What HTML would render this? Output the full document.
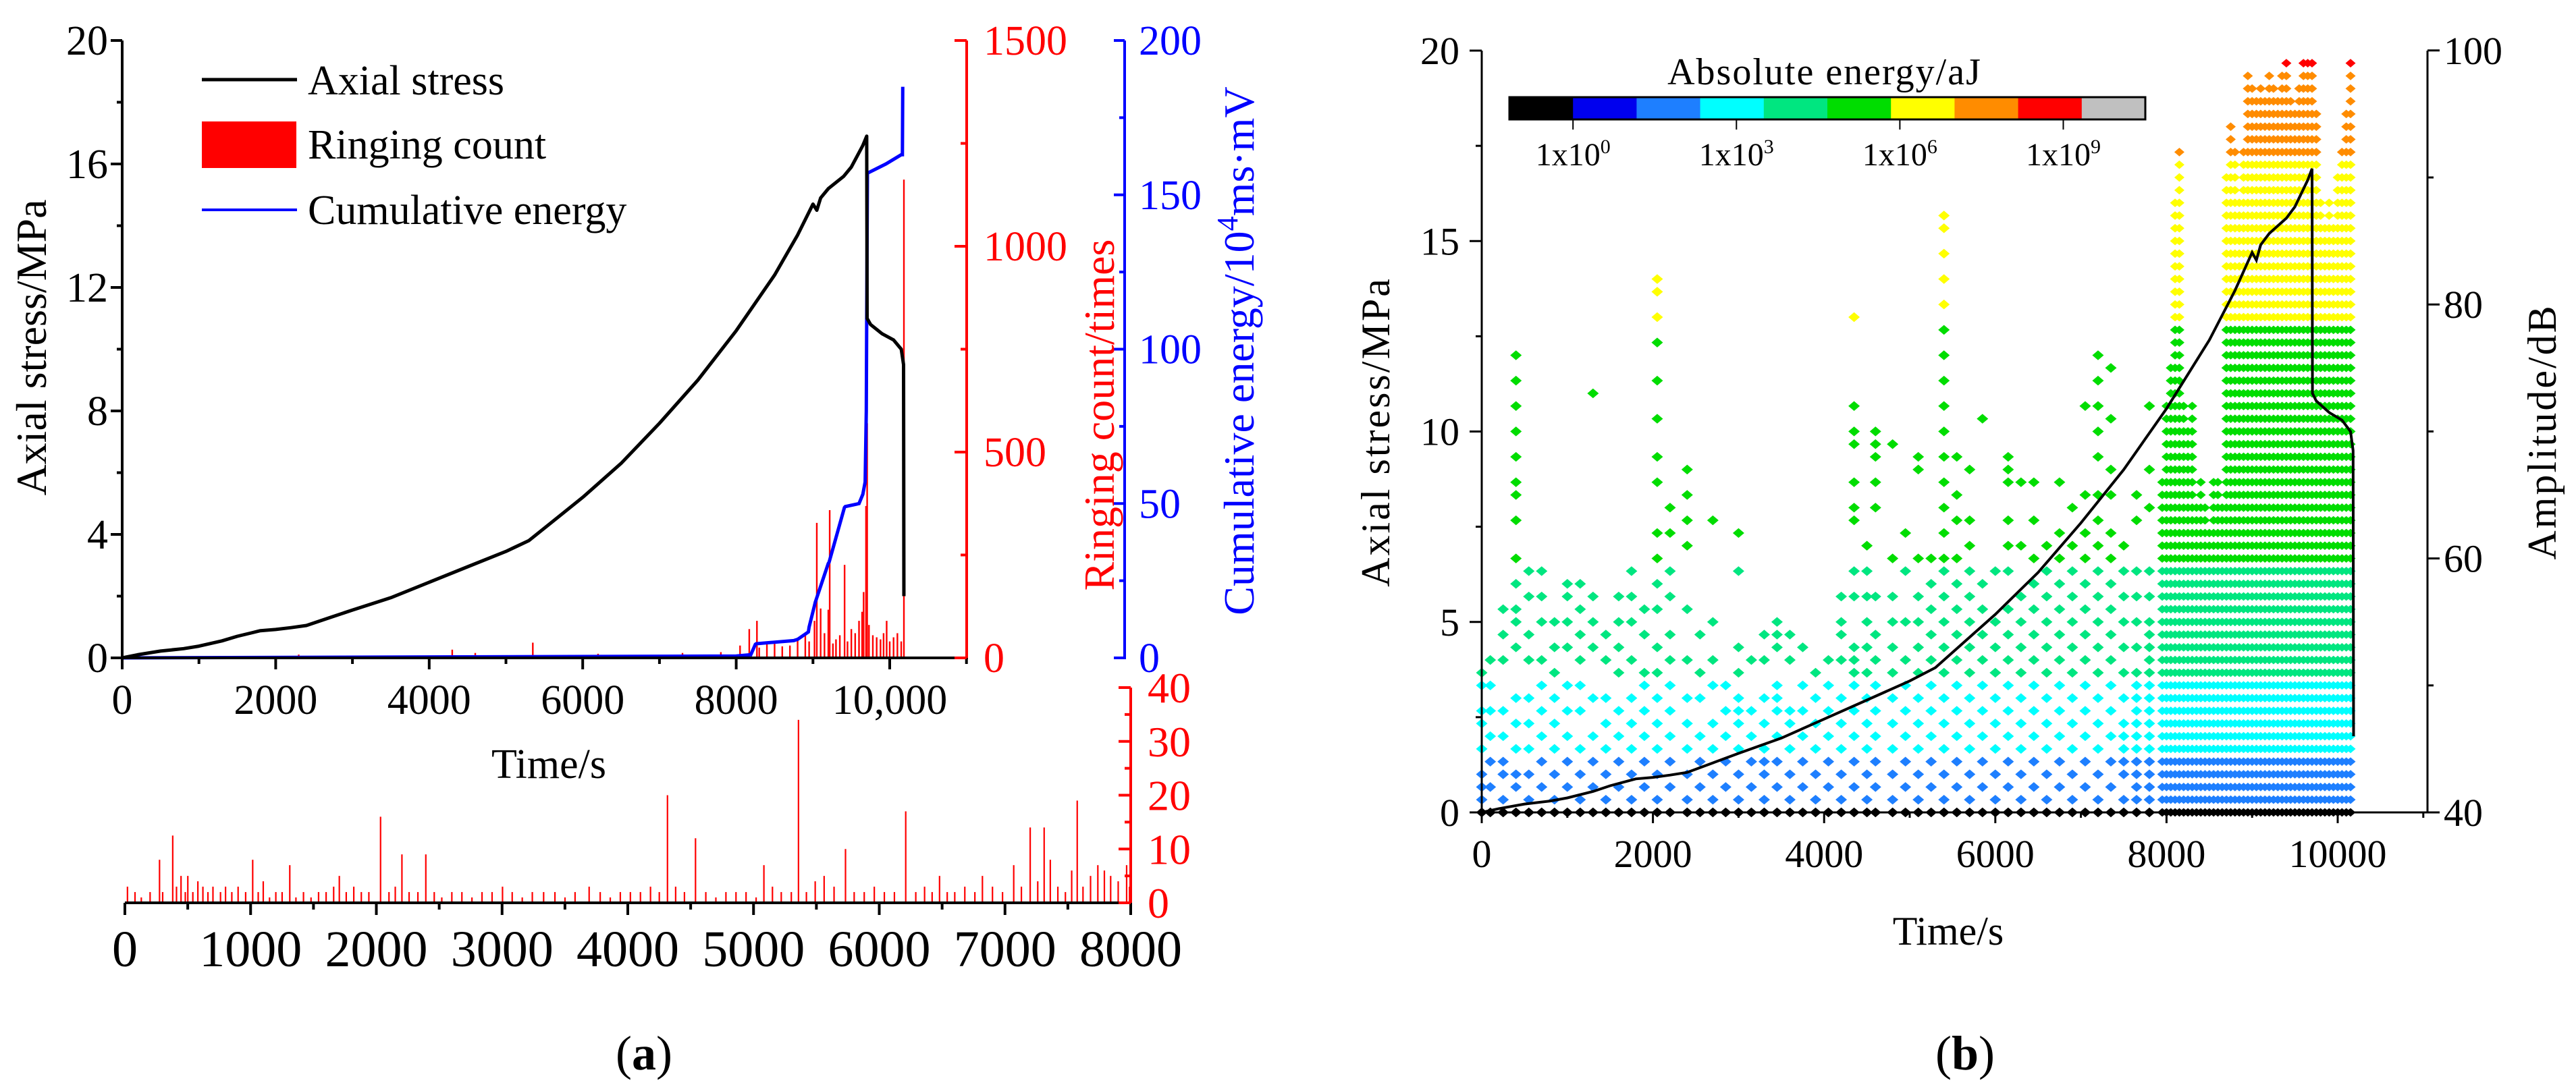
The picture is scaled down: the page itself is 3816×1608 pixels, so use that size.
<!DOCTYPE html>
<html><head><meta charset="utf-8"><title>AE charts</title>
<style>html,body{margin:0;padding:0;background:#fff}svg{display:block}svg text{font-family:"Liberation Serif","DejaVu Serif",serif}</style>
</head><body>
<svg id="fig" xmlns="http://www.w3.org/2000/svg" width="3816" height="1608" viewBox="0 0 3816 1608" font-family="Liberation Serif, DejaVu Serif, serif">
<g id="pa"></g>
<g id="pb"></g>
</svg>
<script>
// ---------- DATA ----------
const stressT = [0,200,500,800,1000,1300,1500,1700,1800,2000,2200,2400,2700,3000,3500,4000,4500,5000,5300,5600,6000,6500,7000,7500,8000,8500,8800,9000,9050,9100,9200,9300,9400,9500,9650,9700,9705,9750,9900,10050,10150,10180,10185];
const stressV = [0,0.1,0.22,0.3,0.38,0.55,0.7,0.82,0.88,0.92,0.98,1.05,1.3,1.55,1.95,2.45,2.95,3.45,3.8,4.4,5.2,6.3,7.6,9.0,10.6,12.4,13.7,14.7,14.5,14.9,15.2,15.4,15.6,15.9,16.6,16.9,11.0,10.8,10.5,10.3,10.0,9.5,2.0];
const energyT = [0,8000,8180,8190,8250,8260,8750,8800,8940,8950,9020,9030,9200,9210,9410,9420,9600,9650,9680,9695,9700,9710,9950,10150,10165,10170];
const energyV = [0,0.6,1,1,4.4,4.6,5.6,6.0,8.4,10,17,18,30.6,31,48.7,49,50,53,57,80,110,157,160,163,163,185];
const ringT = [2300,4300,4600,5350,6200,7300,7800,8050,8170,8270,8300,8400,8500,8600,8700,8800,8900,8950,9020,9050,9100,9150,9200,9218,9260,9300,9350,9412,9450,9500,9550,9600,9640,9660,9691,9706,9730,9780,9830,9880,9920,9960,10000,10050,10100,10150,10185];
const ringV = [8,20,12,37,10,12,14,30,70,90,25,35,40,28,30,45,60,40,90,328,120,60,117,359,35,45,55,226,40,70,60,90,112,160,369,570,80,55,50,45,60,90,40,50,60,40,1162];
const ring2T = [20,80,130,200,275,300,380,410,446,480,500,540,580,620,660,700,760,800,850,900,960,1016,1060,1100,1150,1200,1250,1311,1360,1420,1480,1540,1600,1660,1705,1760,1820,1880,1940,2033,2100,2150,2203,2260,2330,2393,2460,2520,2600,2680,2760,2840,2920,3003,3080,3160,3240,3330,3420,3500,3580,3692,3780,3860,3940,4020,4100,4180,4250,4315,4380,4450,4538,4620,4700,4780,4860,4940,5020,5082,5150,5220,5300,5357,5420,5490,5561,5640,5731,5800,5880,5960,6040,6120,6210,6290,6360,6420,6479,6540,6600,6680,6760,6820,6900,6980,7069,7130,7200,7260,7311,7360,7420,7480,7530,7574,7620,7680,7738,7790,7840,7900,7967,7990];
const ring2V = [3,2,1,2,8,2,12.5,3,5,2,5,2,4,3,2,3,2,3,2,3,2,8,2,4,1,2,2,7,1,2,1,2,2,3,5,2,3,2,2,16,2,3,9,2,2,9,2,1,2,2,1,2,2,3,2,1,2,2,2,1,2,3,2,1,2,2,2,3,2,20,3,2,12,2,1,2,2,2,1,7,3,2,2,34,2,4,5,3,10,2,2,3,2,2,17,2,3,2,5,2,2,3,2,5,3,2,7,3,14,4,14,8,3,2,6,19,3,5,7,6,5,4,7,3];
const sparseT = [0,100,250,400,550,700,850,1000,1150,1300,1450,1600,1750,1900,2050,2200,2400,2550,2700,2850,3000,3150,3300,3450,3600,3750,3900,4050,4200,4350,4500,4600,4800,4950,5100,5250,5400,5550,5700,5850,6000,6150,6300,6450,6600,6750,6900,7050,7200,7350,7500,7650,7800];
const sparseA = ["40 41 42 43 45 47 48 50 51","40 42 44 46 48 50 52","40 41 43 44 46 48 52 54 56","40 42 43 45 47 49 53 55 56 58 60 63 65 66 68 70 72 74 76","40 41 43 45 47 49 52 54 57 59","40 42 44 46 48 50 52 55 57 59","40 41 43 45 47 49 51 53 55","40 42 44 46 48 50 53 55 57 58","40 41 43 45 48 50 52 54 56 58","40 42 44 46 49 53 55 57 73","40 41 43 45 47 49 52 54","40 42 44 46 48 51 53 55 57","40 41 43 45 47 49 52 55 57 59","40 42 44 46 48 50 51 54 56","40 41 43 45 47 49 51 53 56 58 60 62 66 68 71 74 77 79 81 82","40 42 44 46 48 50 52 54 57 59 62 64","40 41 43 45 47 49 52 56 61 63 65 67","40 42 44 46 49 51 54","40 41 43 45 47 50 52 55 63","40 42 44 46 48 50","40 41 43 45 47 48 49 51 53 59 62","40 42 44 46 48 52","40 41 43 44 45 47 49 52 54","40 42 44 46 48 49 50 53 54 55","40 41 43 45 47 48 52 54","40 42 44 46 48 50 53","40 41 43 45 47 49 51","40 42 44 46 48 50 52","40 41 43 45 47 49 52 54 55 57","40 42 44 46 48 50 51 52 53 57 59 63 64 66 69 70 72 79","40 41 43 45 47 49 51 53 55 57 59 61","40 42 44 46 48 50 52 54 57 64 66 68 69 70","40 41 43 45 47 49 51 53 55 57 60 69","40 42 44 46 48 50 52 55 59 62","40 41 43 45 47 49 51 53 55 57 60 67 68","40 42 44 46 48 50 52 54 56 58 60","40 41 43 45 47 49 51 53 55 57 59 60 62 64 66 68 70 72 74 76 78 80 82 84 86 87","40 42 44 46 48 50 52 54 56 58 60 63 65 68","40 41 43 45 47 49 51 53 55 57 59 61 63 67","40 42 44 46 48 50 52 54 56 58 71","40 41 43 45 47 49 51 53 55 59","40 42 44 46 48 50 52 54 56 59 61 63 66 67 68","40 41 43 45 47 49 51 53 55 57 61 66","40 42 44 46 48 50 52 54 56 58 60 63 66","40 41 43 45 47 49 51 53 55 57 59 61","40 42 44 46 48 50 52 54 56 58 60 62 66","40 41 43 45 47 49 51 53 55 57 59 61 64","40 42 44 46 48 50 52 54 56 58 60 62 65 72","40 41 43 45 47 49 51 53 55 57 59 61 63 65 68 70 72 74 76","40 42 44 46 48 50 52 54 56 58 60 62 65 67 71 75","40 41 43 44 45 46 47 49 51 53 55 57 59 61","40 41 42 43 44 45 46 47 48 49 50 51 53 55 57 59 63 65","40 41 42 43 44 45 46 47 48 49 50 51 52 53 54 55 57 59 64 67 72"];
const denseT = [7950,8000,8050,8100,8150,8200,8250,8300,8350,8400,8450,8500,8550,8600,8650,8700,8750,8800,8850,8900,8950,9000,9050,9100,9150,9200,9250,9300,9350,9400,9450,9500,9550,9600,9650,9700,9750,9800,9850,9900,9950,10000,10050,10100,10150];
const denseTop = [66,72,75,88,92,72,70,72,64,66,64,62,66,66,64,90,94,92,88,92,98,97,96,97,96,98,97,96,98,99,96,95,97,99,99,99,95,88,86,88,86,90,92,95,99];
const cbColors = ["#000000","#0000ee","#1e7fff","#00ffff","#00e680","#00dd00","#ffff00","#ff8c00","#ff0000","#c0c0c0"];
const cbLabels = ["1x10","1x10","1x10","1x10"];
const cbExp = ["0","3","6","9"];

// ---------- helpers ----------
const NS = "http://www.w3.org/2000/svg";
const FF = "Liberation Serif, DejaVu Serif, serif";
function el(parent, tag, attrs){ const e=document.createElementNS(NS,tag); for(const k in attrs) e.setAttribute(k,attrs[k]); if(tag==='text') e.setAttribute('font-family',FF); parent.appendChild(e); return e; }
const pa = document.getElementById('pa'), pb = document.getElementById('pb');

// ---------- PANEL A main ----------
const xA = t => 181 + t*0.1137;
const yA = s => 975 - s*45.75;
const yR = c => 975 - c*0.61;
const yB = e => 975 - e*4.575;

const gR = el(pa,'g',{});


ringT.forEach((t,i)=>{
  const r = el(gR,'rect',{x:xA(t)-1.2,y:yR(ringV[i]),width:2.4,height:975-yR(ringV[i]),fill:'#ff0000'});
  
  
});
let dB = '';
energyT.forEach((t,i)=>{ dB += (i?'L':'M')+xA(t).toFixed(1)+','+yB(energyV[i]).toFixed(1)+' '; });
const pB = el(pa,'path',{d:dB,fill:'none',stroke:'#0000ff','stroke-width':5});


let dS='';
stressT.forEach((t,i)=>{ dS += (i?'L':'M')+xA(t).toFixed(1)+','+yA(stressV[i]).toFixed(1)+' '; });
const pS = el(pa,'path',{d:dS,fill:'none',stroke:'#000','stroke-width':5,'stroke-linejoin':'round'});



const axA = el(pa,'g',{});


el(axA,'line',{x1:181,y1:60,x2:181,y2:975,stroke:'#000','stroke-width':4});
el(axA,'line',{x1:181,y1:975,x2:1432,y2:975,stroke:'#000','stroke-width':4});
el(axA,'line',{x1:1432,y1:60,x2:1432,y2:977,stroke:'#ff0000','stroke-width':4});
el(axA,'line',{x1:1666,y1:60,x2:1666,y2:977,stroke:'#0000ff','stroke-width':4});
for(let s=0;s<=20;s+=2){
  const maj = s%4===0;
  el(axA,'line',{x1:181-(maj?17:8),y1:yA(s),x2:181,y2:yA(s),stroke:'#000','stroke-width':4});
  if(maj){ const tx=el(axA,'text',{x:160,y:yA(s)+21,'font-size':62,'text-anchor':'end'}); tx.textContent=s;
      }
}
for(let t=0;t<=11000;t+=1000){
  const maj = t%2000===0 && t<=10000;
  el(axA,'line',{x1:xA(t),y1:975,x2:xA(t),y2:975+(maj?17:9),stroke:'#000','stroke-width':4});
  if(maj){ const tx=el(axA,'text',{x:xA(t),y:1058,'font-size':62,'text-anchor':'middle'}); tx.textContent=t===10000?'10,000':t;
      }
}
for(let c=0;c<=1500;c+=250){
  const maj=c%500===0;
  el(axA,'line',{x1:1432-(maj?18:9),y1:yR(c),x2:1432,y2:yR(c),stroke:'#ff0000','stroke-width':4});
  if(maj){ const tx=el(axA,'text',{x:1457,y:yR(c)+21,'font-size':62,fill:'#ff0000'}); tx.textContent=c;
      }
}
for(let e=0;e<=200;e+=25){
  const maj=e%50===0;
  el(axA,'line',{x1:1666-(maj?16:8),y1:yB(e),x2:1666,y2:yB(e),stroke:'#0000ff','stroke-width':4});
  if(maj){ const tx=el(axA,'text',{x:1687,y:yB(e)+21,'font-size':62,fill:'#0000ff'}); tx.textContent=e;
      }
}
let t1=el(axA,'text',{x:0,y:0,'font-size':64,'text-anchor':'middle',transform:'translate(68,515) rotate(-90)'}); t1.textContent='Axial stress/MPa';
 
let t2=el(axA,'text',{x:0,y:0,'font-size':64,'text-anchor':'middle',fill:'#ff0000',transform:'translate(1650,615) rotate(-90)'}); t2.textContent='Ringing count/times';
 
let t3=el(axA,'text',{x:0,y:0,'font-size':64,'text-anchor':'middle',fill:'#0000ff',transform:'translate(1857,520) rotate(-90)'});
t3.innerHTML='Cumulative energy/10<tspan dy="-24" font-size="44">4</tspan><tspan dy="24">ms·mV</tspan>';
 
let t4=el(axA,'text',{x:813,y:1153,'font-size':62,'text-anchor':'middle'}); t4.textContent='Time/s';
 
const lg = el(pa,'g',{});


el(lg,'line',{x1:299,y1:118,x2:440,y2:118,stroke:'#000','stroke-width':5});
el(lg,'rect',{x:299,y:180,width:140,height:69,fill:'#ff0000'});
el(lg,'line',{x1:299,y1:311,x2:440,y2:311,stroke:'#0000ff','stroke-width':4});
[['Axial stress',140],['Ringing count',235],['Cumulative energy',332]].forEach(a=>{
  const tx=el(lg,'text',{x:456,y:a[1],'font-size':62}); tx.textContent=a[0];
   
});

// ---------- PANEL A bottom ----------
const xC = t => 185 + t*0.18625;
const yC = v => 1338 - v*7.975;
const gC = el(pa,'g',{});


ring2T.forEach((t,i)=>{
  const r=el(gC,'rect',{x:xC(t)-1,y:yC(ring2V[i]),width:2.2,height:1338-yC(ring2V[i]),fill:'#ff0000'});
  
  
});
el(gC,'line',{x1:185,y1:1338,x2:1675,y2:1338,stroke:'#000','stroke-width':4});
el(gC,'line',{x1:1675,y1:1019,x2:1675,y2:1340,stroke:'#ff0000','stroke-width':4});
for(let t=0;t<=8000;t+=500){
  const maj=t%1000===0;
  el(gC,'line',{x1:xC(t),y1:1338,x2:xC(t),y2:1338+(maj?18:10),stroke:'#000','stroke-width':4});
  if(maj){ const tx=el(gC,'text',{x:xC(t),y:1432,'font-size':76,'text-anchor':'middle'}); tx.textContent=t;
      }
}
for(let v=0;v<=40;v+=5){
  const maj=v%10===0;
  el(gC,'line',{x1:1675-(maj?18:9),y1:yC(v),x2:1675,y2:yC(v),stroke:'#ff0000','stroke-width':4});
  if(maj){ const tx=el(gC,'text',{x:1700,y:yC(v)+22,'font-size':64,fill:'#ff0000'}); tx.textContent=v;
      }
}
let ta=el(pa,'text',{x:954,y:1585,'font-size':72,'text-anchor':'middle'}); ta.innerHTML='(<tspan font-weight="bold">a</tspan>)';
 

// ---------- PANEL B ----------
const xD = t => 2195 + t*0.1268;
const yD = s => 1204 - s*56.45;
const yAmp = d => 1204 - (d-40)*18.82;
function ampColor(d){
  if(d<=40) return '#000000';
  if(d<=44) return '#1e7fff';
  if(d<=50) return '#00ffff';
  if(d<=59) return '#00e680';
  if(d<=78) return '#00dd00';
  if(d<=91) return '#ffff00';
  if(d<=98) return '#ff8c00';
  return '#ff0000';
}
const gD = el(pb,'g',{});


function dot(t,d,r){
  const x=xD(t), y=yAmp(d);
  const p=el(gD,'path',{d:`M${x-r},${y}L${x},${y-r*0.85}L${x+r},${y}L${x},${y+r*0.85}Z`,fill:ampColor(d)});
  
  
}
sparseT.forEach((t,i)=>{ sparseA[i].split(' ').map(Number).forEach(d=>dot(t,d,8.5)); });
denseT.forEach((t,i)=>{ for(let d=40; d<=denseTop[i]; d++) dot(t,d,7.5); });
let dS2='';
stressT.forEach((t,i)=>{ dS2 += (i?'L':'M')+xD(t).toFixed(1)+','+yD(stressV[i]).toFixed(1)+' '; });
const pS2=el(pb,'path',{d:dS2,fill:'none',stroke:'#000','stroke-width':4});


const axB=el(pb,'g',{});


el(axB,'line',{x1:2195,y1:75,x2:2195,y2:1204,stroke:'#000','stroke-width':3});
el(axB,'line',{x1:2195,y1:1204,x2:3596,y2:1204,stroke:'#000','stroke-width':3});
el(axB,'line',{x1:3596,y1:75,x2:3596,y2:1204,stroke:'#000','stroke-width':3});
for(let s=0;s<=20;s+=2.5){
  const maj=s%5===0;
  el(axB,'line',{x1:2195-(maj?18:9),y1:yD(s),x2:2195,y2:yD(s),stroke:'#000','stroke-width':3});
  if(maj){ const tx=el(axB,'text',{x:2162,y:yD(s)+20,'font-size':58,'text-anchor':'end'}); tx.textContent=s;
      }
}
for(let d=40;d<=100;d+=10){
  const maj=d%20===0;
  el(axB,'line',{x1:3596,y1:yAmp(d),x2:3596+(maj?18:9),y2:yAmp(d),stroke:'#000','stroke-width':3});
  if(maj){ const tx=el(axB,'text',{x:3620,y:yAmp(d)+20,'font-size':58}); tx.textContent=d;
      }
}
for(let t=0;t<=11000;t+=1000){
  const maj=t%2000===0 && t<=10000;
  el(axB,'line',{x1:xD(t),y1:1204,x2:xD(t),y2:1204+(maj?16:8),stroke:'#000','stroke-width':3});
  if(maj){ const tx=el(axB,'text',{x:xD(t),y:1285,'font-size':58,'text-anchor':'middle'}); tx.textContent=t;
      }
}
let b1=el(axB,'text',{x:0,y:0,'font-size':60,'text-anchor':'middle','letter-spacing':'3',transform:'translate(2058,640) rotate(-90)'}); b1.textContent='Axial stress/MPa';
 
let b2=el(axB,'text',{x:0,y:0,'font-size':60,'text-anchor':'middle','letter-spacing':'3',transform:'translate(3786,640) rotate(-90)'}); b2.textContent='Amplitude/dB';
 
let b3=el(axB,'text',{x:2886,y:1400,'font-size':60,'text-anchor':'middle'}); b3.textContent='Time/s';
 
const cb=el(pb,'g',{});


const cbX0=2236, cbW=94.2;
cbColors.forEach((c,i)=>{
  const r=el(cb,'rect',{x:cbX0+i*cbW,y:144,width:cbW+0.5,height:33,fill:c});
  
  
});
el(cb,'rect',{x:cbX0,y:144,width:cbW*10,height:33,fill:'none',stroke:'#000','stroke-width':3});
cbLabels.forEach((l,i)=>{
  const x=cbX0+cbW*(1+i*2.57);
  el(cb,'line',{x1:x,y1:177,x2:x,y2:192,stroke:'#000','stroke-width':2});
  const tx=el(cb,'text',{x:x,y:245,'font-size':48,'text-anchor':'middle'});
  tx.innerHTML=l+'<tspan dy="-18" font-size="30">'+cbExp[i]+'</tspan>';
   
});
let cbt=el(cb,'text',{x:2703,y:125,'font-size':56,'text-anchor':'middle','letter-spacing':'2'}); cbt.textContent='Absolute energy/aJ';
 
let tb=el(pb,'text',{x:2911,y:1585,'font-size':72,'text-anchor':'middle'}); tb.innerHTML='(<tspan font-weight="bold">b</tspan>)';
 
</script>
</body></html>
